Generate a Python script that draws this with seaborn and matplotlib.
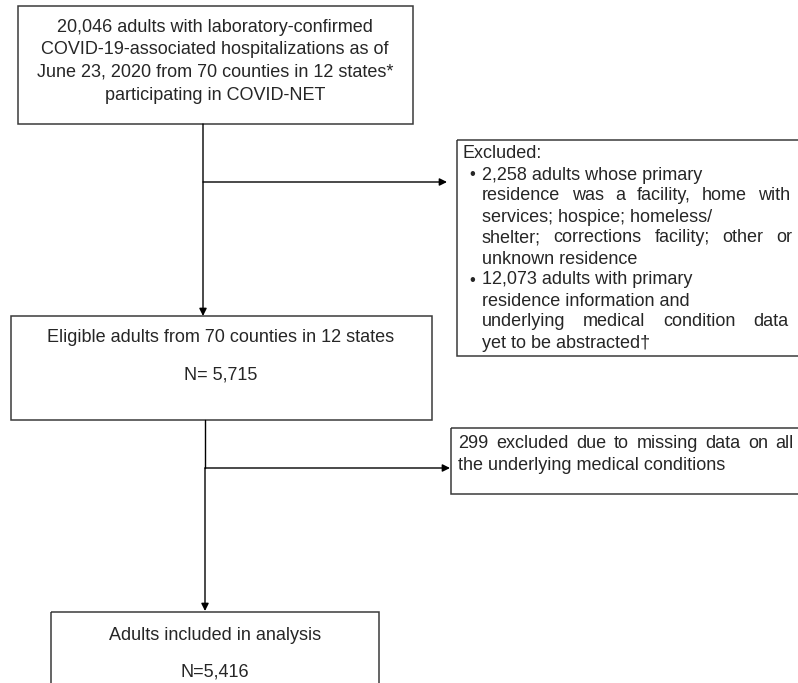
import matplotlib
matplotlib.use("Agg")
import matplotlib.pyplot as plt
from matplotlib.patches import Rectangle
import seaborn as sns

# ---- content ----
top_box_lines = [
    "20,046 adults with laboratory-confirmed",
    "COVID-19-associated hospitalizations as of",
    "June 23, 2020 from 70 counties in 12 states*",
    "participating in COVID-NET",
]
excluded_title = "Excluded:"
excluded_bullets = [
    ["2,258 adults whose primary",
     "residence was a facility, home with",
     "services; hospice; homeless/",
     "shelter; corrections facility; other or",
     "unknown residence"],
    ["12,073 adults with primary",
     "residence information and",
     "underlying medical condition data",
     "yet to be abstracted\u2020"],
]
eligible_lines = ["Eligible adults from 70 counties in 12 states", "N= 5,715"]
missing_lines = ["299 excluded due to missing data on all",
                 "the underlying medical conditions"]
final_lines = ["Adults included in analysis", "N=5,416"]

sns.set_theme(style="white")
plt.rcParams["font.family"] = ["Liberation Sans", "DejaVu Sans"]

W, H = 798, 683
fig = plt.figure(figsize=(W / 100, H / 100), dpi=100)
ax = fig.add_axes([0, 0, 1, 1])
ax.set_xlim(0, W)
ax.set_ylim(H, 0)
ax.axis("off")
renderer = fig.canvas.get_renderer()

FS = 13.0
TC = "#262626"
EC = "#3a3a3a"


def box(x0, y0, x1, y1):
    ax.add_patch(Rectangle((x0, y0), x1 - x0, y1 - y0, fill=False,
                           edgecolor=EC, linewidth=1.1, clip_on=True))


def arrow(x0, y0, x1, y1):
    ax.annotate("", xy=(x1, y1), xytext=(x0, y0),
                arrowprops=dict(arrowstyle="-|>", color="black", lw=1.0,
                                mutation_scale=11, shrinkA=0, shrinkB=0))


def line_text(x, y, s, right=None):
    """Left-aligned line; if right is given, spread words to reach it."""
    if right is None:
        ax.text(x, y, s, ha="left", va="center", fontsize=FS, color=TC)
        return
    words = s.split(" ")
    arts = [ax.text(0, y, w, ha="left", va="center", fontsize=FS, color=TC)
            for w in words]
    widths = [a.get_window_extent(renderer).width for a in arts]
    gap = (right - x - sum(widths)) / max(len(words) - 1, 1)
    cx = x
    for a, w in zip(arts, widths):
        a.set_x(cx)
        cx += w + gap


# top box
box(18, 6, 413, 124)
for i, t in enumerate(top_box_lines):
    ax.text(215, 27 + i * 22.7, t, ha="center", va="center", fontsize=FS, color=TC)

# excluded box
box(457, 140, 820, 356)
ax.text(463, 154, excluded_title, ha="left", va="center", fontsize=FS, color=TC)
stretch = {"residence was a facility, home with": 790,
           "shelter; corrections facility; other or": 792,
           "underlying medical condition data": 788}
y = 154 + 21
for group in excluded_bullets:
    ax.text(472, y, "\u2022", ha="center", va="center", fontsize=FS - 1, color=TC)
    for t in group:
        line_text(482, y, t, stretch.get(t))
        y += 21

# eligible box
box(11, 316, 432, 420)
ax.text(221, 338, eligible_lines[0], ha="center", va="center", fontsize=FS, color=TC)
ax.text(221, 375, eligible_lines[1], ha="center", va="center", fontsize=FS, color=TC)

# missing box
box(451, 428, 820, 494)
line_text(458, 443, missing_lines[0], 794)
line_text(458, 465, missing_lines[1])

# final box
box(51, 612, 379, 720)
ax.text(215, 635, final_lines[0], ha="center", va="center", fontsize=FS, color=TC)
ax.text(215, 672, final_lines[1], ha="center", va="center", fontsize=FS, color=TC)

# connectors
arrow(203, 124, 203, 316)
arrow(203, 182, 447, 182)
ax.plot([205, 205], [420, 468], color="black", lw=1.0)
arrow(205, 468, 205, 611)
arrow(205, 468, 450, 468)

fig.savefig("out.png", dpi=100, facecolor="white")
